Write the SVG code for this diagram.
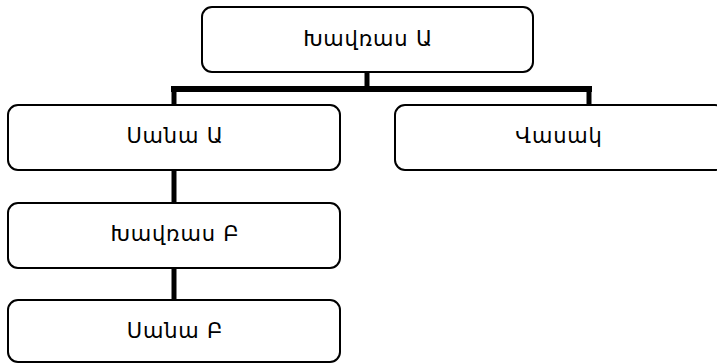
<svg xmlns="http://www.w3.org/2000/svg" width="717" height="364" viewBox="0 0 717 364">
<style>
.box{fill:#fff;stroke:#000;stroke-width:2}
.lbl{font-family:"DejaVu Sans","Noto Sans",sans-serif;font-size:21px;letter-spacing:0.8px;fill:#000;text-anchor:middle;dominant-baseline:central}
.con{stroke:#000;fill:none}
</style>
<rect width="717" height="364" fill="#fff"/>
<g id="connectors">
<line class="con" x1="367" y1="72" x2="367" y2="88" stroke-width="5"/>
<line class="con" x1="171" y1="89" x2="592" y2="89" stroke-width="6"/>
<line class="con" x1="174" y1="89" x2="174" y2="105" stroke-width="5"/>
<line class="con" x1="589" y1="89" x2="589" y2="105" stroke-width="5"/>
<line class="con" x1="174" y1="170" x2="174" y2="203" stroke-width="5"/>
<line class="con" x1="174" y1="268" x2="174" y2="300" stroke-width="5"/>
</g>
<g id="khavras-a">
<rect class="box" x="202" y="7" width="331" height="65" rx="10"/>
<text class="lbl" x="368" y="39">Խավռաս Ա</text>
</g>
<g id="sana-a">
<rect class="box" x="8" y="105" width="332" height="65" rx="10"/>
<text class="lbl" x="175" y="136">Սանա Ա</text>
</g>
<g id="vasak">
<rect class="box" x="395" y="105" width="330" height="65" rx="10"/>
<text class="lbl" x="559" y="136">Վասակ</text>
</g>
<g id="khavras-b">
<rect class="box" x="8" y="203" width="332" height="65" rx="10"/>
<text class="lbl" x="175" y="234">Խավռաս Բ</text>
</g>
<g id="sana-b">
<rect class="box" x="8" y="300" width="332" height="62" rx="10"/>
<text class="lbl" x="175" y="331">Սանա Բ</text>
</g>
</svg>
